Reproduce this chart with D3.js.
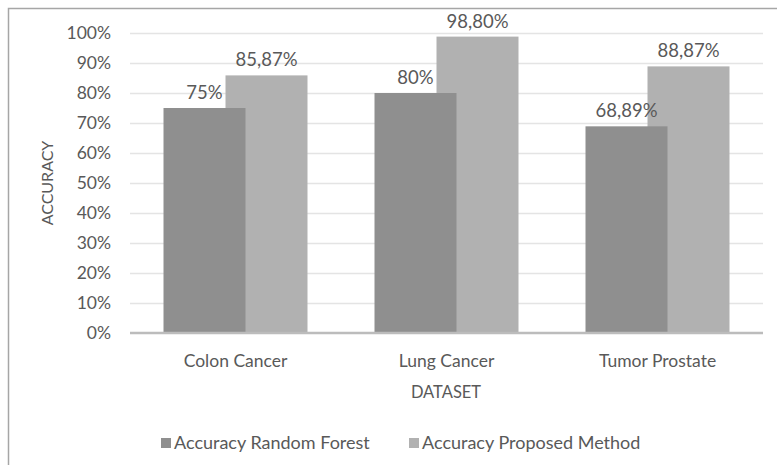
<!DOCTYPE html>
<html>
<head>
<meta charset="utf-8">
<script src="https://cdn.jsdelivr.net/npm/d3@7"></script>
<style>
  body { margin: 0; background: #fff; }
  svg text { font-family: "Lato", sans-serif; fill: #595959; }
  .grid line { stroke: #e4e4e4; stroke-width: 1.5; }
  .grid .domain { display: none; }
</style>
</head>
<body>
<svg id="chart" width="777" height="465"></svg>
<script>
const categories = ["Colon Cancer", "Lung Cancer", "Tumor Prostate"];
const seriesNames = ["Accuracy Random Forest", "Accuracy Proposed Method"];
const randomForest = [75, 80, 68.89];
const proposed = [85.87, 98.80, 88.87];
const rfLabels = ["75%", "80%", "68,89%"];
const propLabels = ["85,87%", "98,80%", "88,87%"];
const yTicks = [0, 10, 20, 30, 40, 50, 60, 70, 80, 90, 100];
const colors = ["#8f8f8f", "#b1b1b1"];

const width = 777, height = 465;
const margin = {left: 130, right: 14, top: 33, bottom: 132};

const svg = d3.select("#chart");

// outer frame
svg.append("rect")
    .attr("x", 8.5).attr("y", 8.5)
    .attr("width", width + 20).attr("height", height + 20)
    .attr("fill", "none").attr("stroke", "#a6a6a6").attr("stroke-width", 1.5);

const x = d3.scaleBand().domain(categories)
    .range([margin.left, width - margin.right]);
const y = d3.scaleLinear().domain([0, 100])
    .range([height - margin.bottom, margin.top]);

// grid lines
svg.append("g")
    .attr("class", "grid")
    .attr("transform", "translate(" + margin.left + ",0)")
    .call(d3.axisLeft(y).tickValues(yTicks.slice(1))
        .tickSize(-(width - margin.right - margin.left)).tickFormat(""));

// y tick labels
svg.append("g").selectAll("text")
    .data(yTicks).join("text")
    .attr("x", 111)
    .attr("y", d => y(d))
    .attr("dy", "0.35em")
    .attr("text-anchor", "end")
    .attr("font-size", 17.5)
    .text(d => d + "%");

const barW = 82, overlap = 20;
const cx = c => x(c) + x.bandwidth() / 2;

// proposed method bars (behind)
svg.append("g").selectAll("rect")
    .data(categories).join("rect")
    .attr("x", (c) => cx(c) - overlap / 2)
    .attr("width", barW)
    .attr("y", (c, i) => y(proposed[i]))
    .attr("height", (c, i) => y(0) - y(proposed[i]))
    .attr("fill", colors[1]);

// random forest bars (front)
svg.append("g").selectAll("rect")
    .data(categories).join("rect")
    .attr("x", (c) => cx(c) + overlap / 2 - barW)
    .attr("width", barW)
    .attr("y", (c, i) => y(randomForest[i]))
    .attr("height", (c, i) => y(0) - y(randomForest[i]))
    .attr("fill", colors[0]);

// value labels
svg.append("g").selectAll("text")
    .data(categories).join("text")
    .attr("x", c => cx(c) - overlap / 2 + barW / 2)
    .attr("y", (c, i) => y(proposed[i]) - 9)
    .attr("text-anchor", "middle")
    .attr("font-size", 18.5)
    .text((c, i) => propLabels[i]);
svg.append("g").selectAll("text")
    .data(categories).join("text")
    .attr("x", c => cx(c) + overlap / 2 - barW / 2)
    .attr("y", (c, i) => y(randomForest[i]) - 9)
    .attr("text-anchor", "middle")
    .attr("font-size", 18.5)
    .text((c, i) => rfLabels[i]);

// x axis line
svg.append("line")
    .attr("x1", margin.left).attr("x2", width - margin.right)
    .attr("y1", y(0)).attr("y2", y(0))
    .attr("stroke", "#bcbcbc").attr("stroke-width", 2.5);

// category labels
svg.append("g").selectAll("text")
    .data(categories).join("text")
    .attr("x", c => cx(c))
    .attr("y", 367)
    .attr("text-anchor", "middle")
    .attr("font-size", 17.5)
    .text(d => d);

// axis titles
svg.append("text")
    .attr("x", 446).attr("y", 398)
    .attr("text-anchor", "middle")
    .attr("font-size", 16.5)
    .text("DATASET");
svg.append("text")
    .attr("transform", "translate(53,183) rotate(-90)")
    .attr("text-anchor", "middle")
    .attr("font-size", 16)
    .text("ACCURACY");

// legend
const legendX = [161, 409];
const legend = svg.append("g").selectAll("g")
    .data(seriesNames).join("g")
    .attr("transform", (d, i) => "translate(" + legendX[i] + ",443)");
legend.append("rect")
    .attr("x", 0).attr("y", -5).attr("width", 10).attr("height", 10)
    .attr("fill", (d, i) => colors[i]);
legend.append("text")
    .attr("x", 13).attr("dy", "0.35em")
    .attr("font-size", 18)
    .text(d => d);
</script>
</body>
</html>
